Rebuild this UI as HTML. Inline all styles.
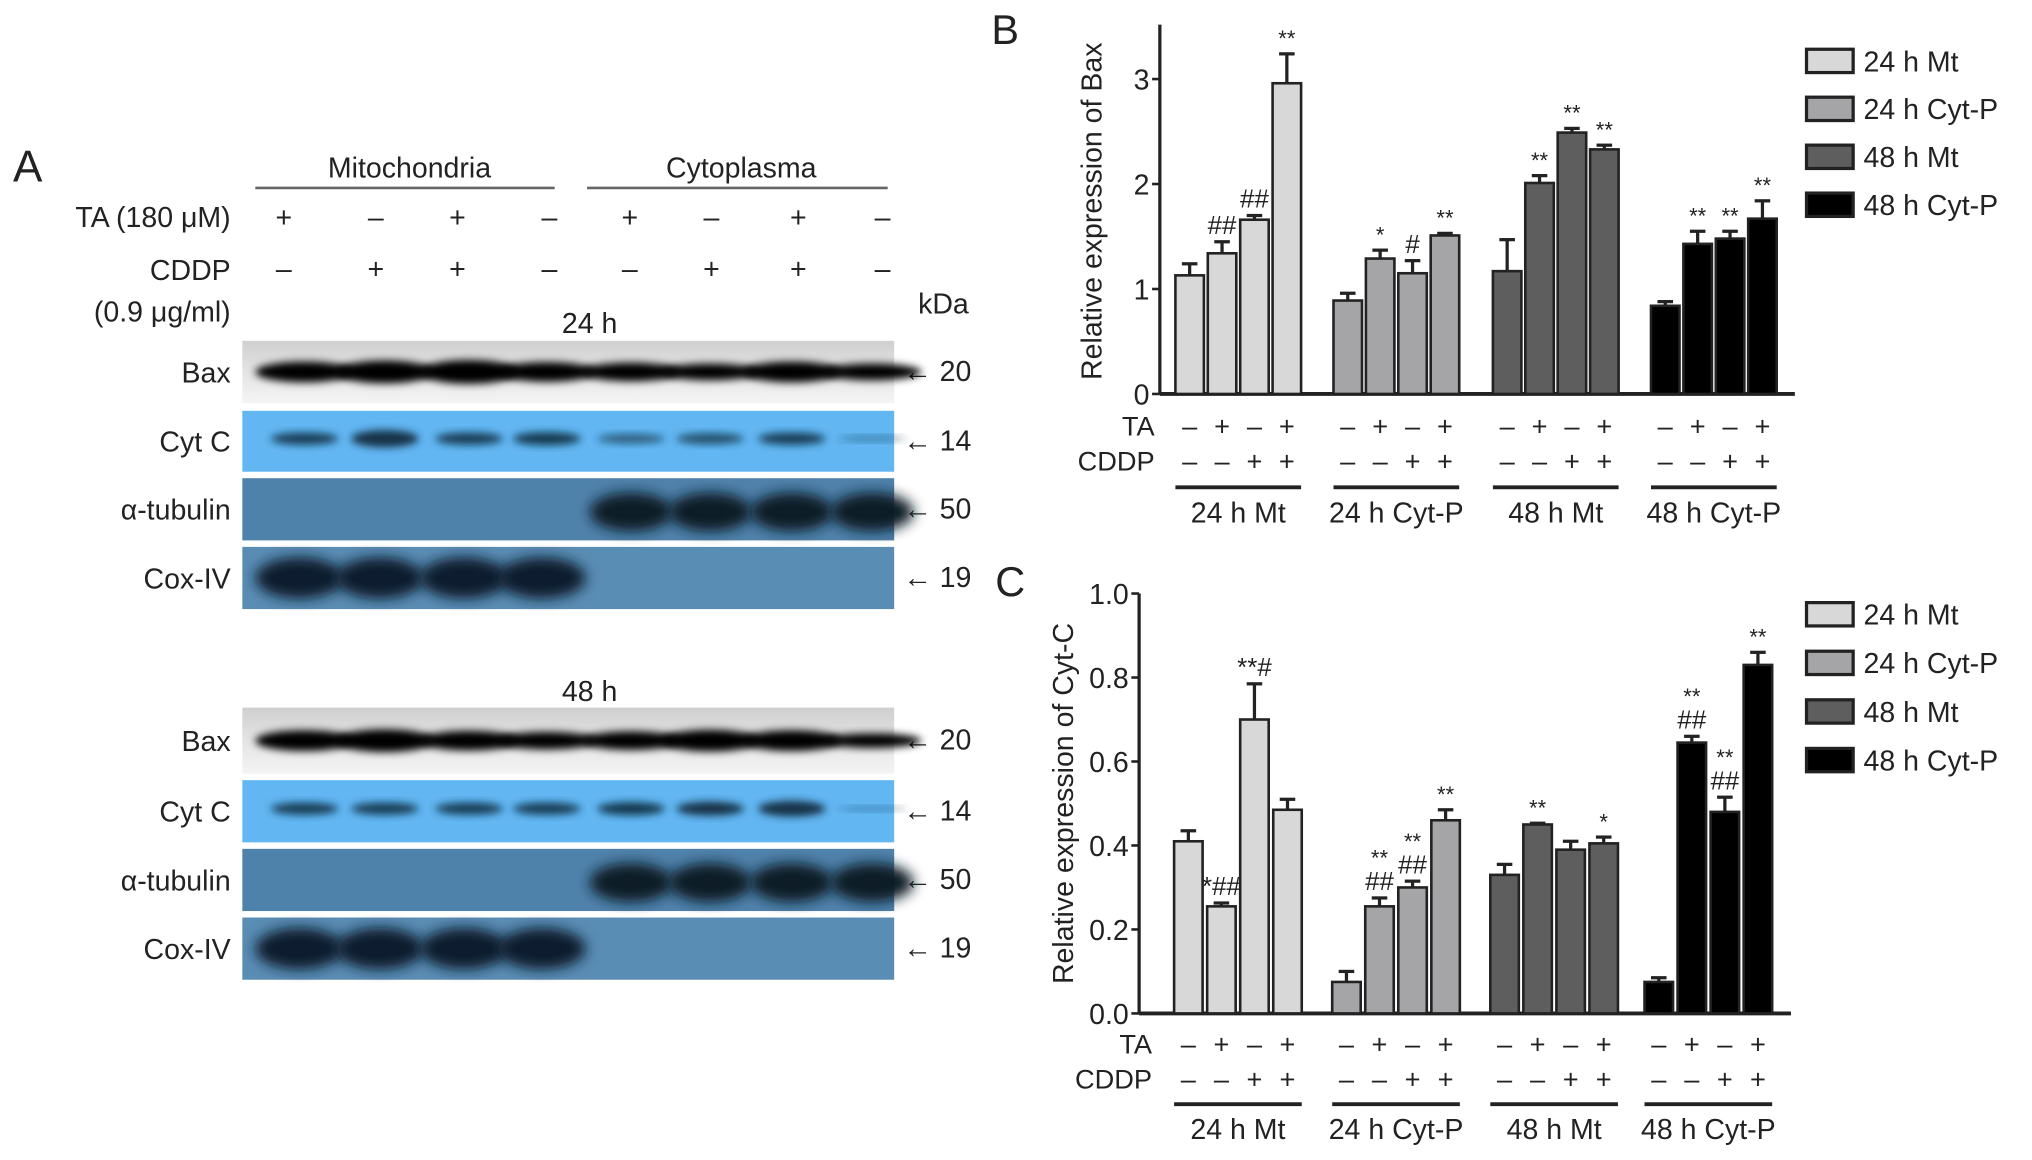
<!DOCTYPE html>
<html><head><meta charset="utf-8"><style>
html,body{margin:0;padding:0;background:#fff;width:2032px;height:1160px;overflow:hidden}
svg{display:block}
text{font-family:"Liberation Sans",sans-serif;fill:#222}
</style></head><body>
<svg id="fig" width="2032" height="1160" viewBox="0 0 1568 895.1" preserveAspectRatio="none" xmlns="http://www.w3.org/2000/svg">
<defs>
<filter id="blur" x="-20%" y="-50%" width="140%" height="200%"><feGaussianBlur stdDeviation="3"/></filter>
<filter id="blur2" x="-20%" y="-50%" width="140%" height="200%"><feGaussianBlur stdDeviation="5"/></filter>
<linearGradient id="baxg" x1="0" y1="0" x2="0" y2="1"><stop offset="0" stop-color="#cfcfcf"/><stop offset="0.5" stop-color="#e4e4e4"/><stop offset="1" stop-color="#f4f4f4"/></linearGradient>
</defs>
<g id="panelA"></g>
<g id="chartB"></g>
<g id="chartC"></g>
</svg>
<script>
// ---- chart data ----
const groups = ["24 h Mt","24 h Cyt-P","48 h Mt","48 h Cyt-P"];
const groupColors = ["#d8d8d8","#a5a5a8","#5e5e5e","#000000"];
const taSigns = ["–","+","–","+"];
const cddpSigns = ["–","–","+","+"];
const baxValues = [[1.13,1.34,1.66,2.96],[0.89,1.29,1.15,1.51],[1.17,2.01,2.49,2.33],[0.84,1.43,1.48,1.67]];
const baxErrors = [[0.11,0.11,0.04,0.28],[0.07,0.08,0.12,0.02],[0.30,0.07,0.04,0.04],[0.04,0.12,0.07,0.17]];
const baxMarks = [["","##","##","**"],["","*","#","**"],["","**","**","**"],["","**","**","**"]];
const baxTicks = [0,1,2,3];
const cytValues = [[0.41,0.255,0.70,0.485],[0.075,0.255,0.30,0.46],[0.33,0.45,0.39,0.405],[0.075,0.645,0.48,0.83]];
const cytErrors = [[0.025,0.008,0.085,0.025],[0.025,0.02,0.015,0.025],[0.025,0.003,0.02,0.015],[0.01,0.015,0.035,0.03]];
const cytMarks = [["","*##","**#",""],["","**|##","**|##","**"],["","**","","*"],["","**|##","**|##","**"]];
const cytTicks = ["0.0","0.2","0.4","0.6","0.8","1.0"];

const NS="http://www.w3.org/2000/svg";
function mk(parent,tag,attrs,txt){const e=document.createElementNS(NS,tag);for(const k in attrs)e.setAttribute(k,attrs[k]);if(txt!==undefined)e.textContent=txt;parent.appendChild(e);return e;}

function drawChart(gid,cfg){
  const g=document.getElementById(gid);
  const y=v=>cfg.y0-(v/cfg.ymax)*(cfg.y0-cfg.ytop);
  const x=(gi,bi)=>cfg.gx[gi]+bi*cfg.bstep;
  const ax=mk(g,'line',{x1:cfg.ax,y1:cfg.axTop,x2:cfg.ax,y2:cfg.y0,stroke:'#222','stroke-width':2.5});
  
  
  const xa=mk(g,'line',{x1:cfg.ax,y1:cfg.y0,x2:cfg.xend,y2:cfg.y0,stroke:'#222','stroke-width':3});
  
  
  cfg.ticks.forEach(t=>{const v=parseFloat(t);
    mk(g,'line',{x1:cfg.ax-6,y1:y(v),x2:cfg.ax,y2:y(v),stroke:'#222','stroke-width':2});
    const tl=mk(g,'text',{x:cfg.ax-8,y:y(v)+8,'text-anchor':'end','font-size':22},String(t));
    
    
  });
  const yt=mk(g,'text',{x:0,y:0,transform:`translate(${cfg.ytx},${cfg.yty}) rotate(-90)`,'text-anchor':'middle','font-size':22},cfg.title);
  
  
  const pl=mk(g,'text',{x:cfg.plx,y:cfg.ply,'font-size':32},cfg.letter);
  
  
  cfg.vals.forEach((gv,gi)=>{gv.forEach((v,bi)=>{
    const cx=x(gi,bi),w=cfg.bw;
    const e=cfg.errs[gi][bi];
    mk(g,'line',{x1:cx,y1:y(v),x2:cx,y2:y(v+e),stroke:'#222','stroke-width':2.5});
    mk(g,'line',{x1:cx-6,y1:y(v+e),x2:cx+6,y2:y(v+e),stroke:'#222','stroke-width':2.5});
    const r=mk(g,'rect',{x:cx-w/2,y:y(v),width:w,height:cfg.y0-y(v),fill:groupColors[gi],stroke:'#222','stroke-width':2});
    
    
    const m=cfg.marks[gi][bi];
    if(m){const parts=m.split('|');
      parts.forEach((p,pi)=>{const ty=y(v+e)-6-(parts.length-1-pi)*19;
        const t=mk(g,'text',{x:cx,y:ty,'text-anchor':'middle','font-size':p.indexOf('#')>=0?20:17},p);
        
        });}
    mk(g,'text',{x:cx,y:cfg.taY,'text-anchor':'middle','font-size':21},taSigns[bi]);
    mk(g,'text',{x:cx,y:cfg.cdY,'text-anchor':'middle','font-size':21},cddpSigns[bi]);
  });
    const gl=x(gi,0)-cfg.bw/2, gr=x(gi,3)+cfg.bw/2;
    mk(g,'line',{x1:gl,y1:cfg.lineY,x2:gr,y2:cfg.lineY,stroke:'#222','stroke-width':3});
    const gt=mk(g,'text',{x:(gl+gr)/2,y:cfg.lineY+27,'text-anchor':'middle','font-size':22},groups[gi]);
    
    
  });
  const ta=mk(g,'text',{x:cfg.lblX,y:cfg.taY,'text-anchor':'end','font-size':21},'TA');
  
  
  const cd=mk(g,'text',{x:cfg.lblX,y:cfg.cdY,'text-anchor':'end','font-size':21},'CDDP');
  
  
  groups.forEach((gn,i)=>{const ly=cfg.legY+i*cfg.legStep;
    const lr=mk(g,'rect',{x:1394,y:ly-9,width:36,height:18,fill:groupColors[i],stroke:'#222','stroke-width':2.5});
    
    
    const lt=mk(g,'text',{x:1438,y:ly+8,'font-size':22},gn);
    
    
  });
}
drawChart('chartB',{ax:895,axTop:19,xend:1385,y0:304,ytop:61,ymax:3,ticks:baxTicks,gx:[918,1040,1163,1285],bstep:25,bw:22,
  vals:baxValues,errs:baxErrors,marks:baxMarks,taY:336,cdY:363,lineY:376,legY:47,legStep:37,lblX:891,
  title:'Relative expression of Bax',ytx:850,yty:163,letter:'B',plx:765,ply:34});
drawChart('chartC',{ax:879,axTop:458,xend:1382,y0:782,ytop:458,ymax:1.0,ticks:cytTicks,gx:[917,1039,1161,1280],bstep:25.5,bw:22,
  vals:cytValues,errs:cytErrors,marks:cytMarks,taY:813,cdY:840,lineY:852,legY:474,legStep:37.5,lblX:889,
  title:'Relative expression of Cyt-C',ytx:828,yty:620,letter:'C',plx:768,ply:460});

// ---- western blot panel ----
(function(){
 const g=document.getElementById('panelA');
 const lanes=[219,281,346,406,471,532,595,657];
 const t=(x,y,s,txt,anchor,name)=>{const e=mk(g,'text',{x:x,y:y,'font-size':s,'text-anchor':anchor||'start'},txt);
   
   return e;};
 t(10,140,34,'A','start','panel-label');
 t(316,137,22,'Mitochondria','middle','mitochondria-header');
 t(572,137,22,'Cytoplasma','middle','cytoplasma-header');
 mk(g,'line',{x1:197,y1:145,x2:428,y2:145,stroke:'#666','stroke-width':2});
 mk(g,'line',{x1:453,y1:145,x2:685,y2:145,stroke:'#666','stroke-width':2});
 t(178,175,22,'TA (180 μM)','end','ta-label');
 t(178,216,22,'CDDP','end','cddp-label');
 t(178,248,22,'(0.9 μg/ml)','end','cddp-dose-label');
 const ta=['+','–','+','–','+','–','+','–'], cd=['–','+','+','–','–','+','+','–'];
 const lx=[219,290,353,424,486,549,616,681];
 lx.forEach((x,i)=>{t(x,175,22,ta[i],'middle','ta-sign');t(x,215,22,cd[i],'middle','cddp-sign');});
 t(728,242,22,'kDa','middle','kda-label');
 const sections=[{label:'24 h',ly:257,rows:[263,317,369,422],h:[48,47,48,48]},{label:'48 h',ly:541,rows:[546,602,655,708],h:[51,48,48,48]}];
 const names=['Bax','Cyt C','α-tubulin','Cox-IV'], kda=['20','14','50','19'];
 const bg=['url(#baxg)','#62b6f2','#4f82ab','#5a8db4'];
 const baxInt=[[1,1.1,1.15,0.95,0.9,0.8,1,0.8],[1,1.1,0.95,0.85,0.9,1.05,1,0.7]];
 const cytInt=[[0.8,1.1,0.8,0.85,0.6,0.7,0.8,0.35],[0.8,0.8,0.8,0.8,0.85,0.9,1,0.3]];
 sections.forEach((s,si)=>{
  t(455,s.ly,22,s.label,'middle','time-label');
  s.rows.forEach((ry,ri)=>{
   const h=s.h[ri];
   const r=mk(g,'rect',{x:187,y:ry,width:503,height:h,fill:bg[ri]});
   
   
   const cy=ry+h/2;
   t(178,cy+8,22,names[ri],'end','blot-label');
   t(697,cy+7,22,'← '+kda[ri],'start','kda-marker');
   lanes.forEach((x,li)=>{
    const bx=x+16;
    if(ri===0){const k=baxInt[si][li];mk(g,'ellipse',{cx:bx,cy:cy,rx:38,ry:8*k,fill:'#050505',filter:'url(#blur)'});}
    if(ri===1){const k=cytInt[si][li];mk(g,'ellipse',{cx:bx,cy:cy-2,rx:26,ry:6*k,fill:'#123246','fill-opacity':Math.min(1,k+0.1),filter:'url(#blur)'});}
    if(ri===2&&li>=4){mk(g,'ellipse',{cx:bx,cy:cy+2,rx:32,ry:15,fill:'#0a1a28',filter:'url(#blur2)'});}
    if(ri===3&&li<4){mk(g,'ellipse',{cx:bx-4,cy:cy,rx:34,ry:16,fill:'#0d1f2e',filter:'url(#blur2)'});}
   });
  });
 });
})();
</script>
</body></html>
